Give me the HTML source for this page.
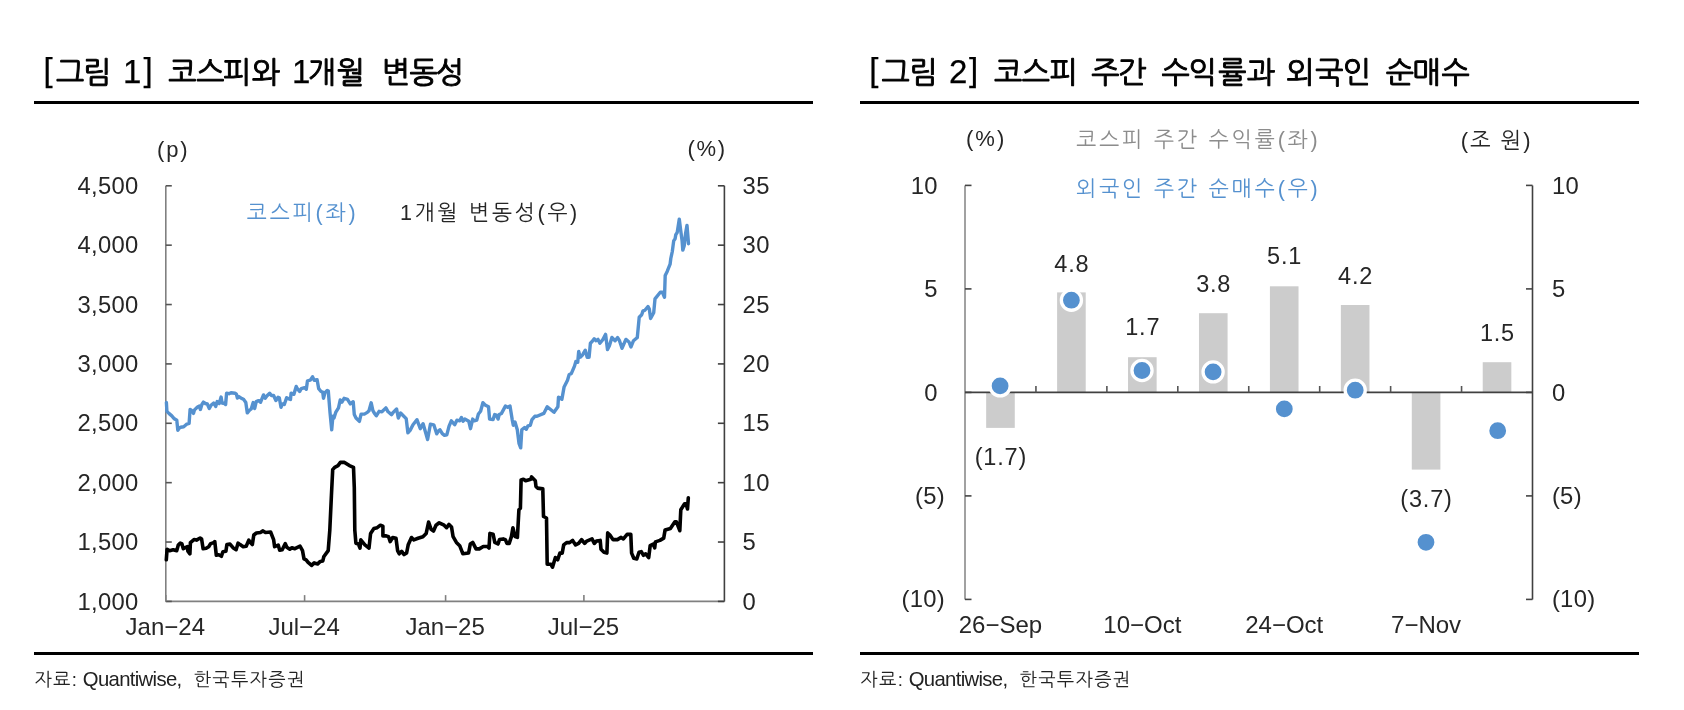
<!DOCTYPE html><html><head><meta charset="utf-8"><style>html,body{margin:0;padding:0;background:#fff;width:1684px;height:710px;overflow:hidden}svg{display:block;will-change:transform}</style></head><body><svg width="1684" height="710" viewBox="0 0 1684 710">
<rect width="100%" height="100%" fill="#fff"/>
<rect x="34" y="101" width="779" height="3" fill="#000"/>
<rect x="34" y="652" width="779" height="3" fill="#000"/>
<rect x="860" y="101" width="779" height="3" fill="#000"/>
<rect x="860" y="652" width="779" height="3" fill="#000"/>
<text text-anchor="middle" font-family="'Liberation Sans','NanumGothic',sans-serif" font-size="30" font-weight="400" fill="#000" stroke="#000" stroke-width="0.95" xml:space="preserve"><tspan x="48.0" y="81.0" font-size="33" stroke-width="0.25">[</tspan><tspan x="70.1" y="83">그</tspan><tspan x="97.4" y="83">림</tspan><tspan x="118.8" y="83"> </tspan><tspan x="132.2" y="83.0" font-size="33" stroke-width="0.25">1</tspan><tspan x="148.2" y="81.0" font-size="33" stroke-width="0.25">]</tspan><tspan x="160.3" y="83"> </tspan><tspan x="182.3" y="83">코</tspan><tspan x="210.3" y="83">스</tspan><tspan x="237.0" y="83">피</tspan><tspan x="265.9" y="83">와</tspan><tspan x="288.5" y="83"> </tspan><tspan x="301.2" y="83.0" font-size="33" stroke-width="0.25">1</tspan><tspan x="322.0" y="83">개</tspan><tspan x="350.6" y="83">월</tspan><tspan x="373.4" y="83"> </tspan><tspan x="396.1" y="83">변</tspan><tspan x="423.5" y="83">동</tspan><tspan x="449.8" y="83">성</tspan></text>
<text text-anchor="middle" font-family="'Liberation Sans','NanumGothic',sans-serif" font-size="30" font-weight="400" fill="#000" stroke="#000" stroke-width="0.95" xml:space="preserve"><tspan x="873.8" y="81.0" font-size="33" stroke-width="0.25">[</tspan><tspan x="895.5" y="83">그</tspan><tspan x="923.5" y="83">림</tspan><tspan x="942.4" y="83"> </tspan><tspan x="958.3" y="83.0" font-size="33" stroke-width="0.25">2</tspan><tspan x="973.7" y="81.0" font-size="33" stroke-width="0.25">]</tspan><tspan x="985.8" y="83"> </tspan><tspan x="1008.2" y="83">코</tspan><tspan x="1035.8" y="83">스</tspan><tspan x="1063.5" y="83">피</tspan><tspan x="1083.7" y="83"> </tspan><tspan x="1105.3" y="83">주</tspan><tspan x="1132.4" y="83">간</tspan><tspan x="1153.5" y="83"> </tspan><tspan x="1175.5" y="83">수</tspan><tspan x="1202.5" y="83">익</tspan><tspan x="1232.3" y="83">률</tspan><tspan x="1260.9" y="83">과</tspan><tspan x="1281.3" y="83"> </tspan><tspan x="1300.4" y="83">외</tspan><tspan x="1329.3" y="83">국</tspan><tspan x="1356.8" y="83">인</tspan><tspan x="1377.8" y="83"> </tspan><tspan x="1399.8" y="83">순</tspan><tspan x="1426.8" y="83">매</tspan><tspan x="1455.7" y="83">수</tspan></text>
<text y="685.5" font-family="'Liberation Sans','NanumGothic',sans-serif" font-size="18.5" fill="#222"><tspan x="34.4" letter-spacing="1.3">자료: </tspan><tspan x="82.75" font-size="20.3" letter-spacing="-0.65">Quantiwise, </tspan><tspan x="193.65" letter-spacing="1.26">한국투자증권</tspan></text>
<text y="685.5" font-family="'Liberation Sans','NanumGothic',sans-serif" font-size="18.5" fill="#222"><tspan x="860.3" letter-spacing="1.3">자료: </tspan><tspan x="908.65" font-size="20.3" letter-spacing="-0.65">Quantiwise, </tspan><tspan x="1019.55" letter-spacing="1.26">한국투자증권</tspan></text>
<line x1="165.8" y1="185.8" x2="165.8" y2="601.4" stroke="#808080" stroke-width="1.6"/>
<line x1="724.4" y1="185.8" x2="724.4" y2="601.4" stroke="#404040" stroke-width="1.6"/>
<line x1="165.8" y1="601.4" x2="724.4" y2="601.4" stroke="#808080" stroke-width="1.6"/>
<line x1="165.8" y1="601.40" x2="171.8" y2="601.40" stroke="#555" stroke-width="1.6"/>
<text x="138.5" y="609.60" text-anchor="end" font-family="'Liberation Sans','NanumGothic',sans-serif" font-size="23.8" letter-spacing="0.3" fill="#262626">1,000</text>
<line x1="165.8" y1="542.03" x2="171.8" y2="542.03" stroke="#555" stroke-width="1.6"/>
<text x="138.5" y="550.23" text-anchor="end" font-family="'Liberation Sans','NanumGothic',sans-serif" font-size="23.8" letter-spacing="0.3" fill="#262626">1,500</text>
<line x1="165.8" y1="482.66" x2="171.8" y2="482.66" stroke="#555" stroke-width="1.6"/>
<text x="138.5" y="490.86" text-anchor="end" font-family="'Liberation Sans','NanumGothic',sans-serif" font-size="23.8" letter-spacing="0.3" fill="#262626">2,000</text>
<line x1="165.8" y1="423.29" x2="171.8" y2="423.29" stroke="#555" stroke-width="1.6"/>
<text x="138.5" y="431.49" text-anchor="end" font-family="'Liberation Sans','NanumGothic',sans-serif" font-size="23.8" letter-spacing="0.3" fill="#262626">2,500</text>
<line x1="165.8" y1="363.91" x2="171.8" y2="363.91" stroke="#555" stroke-width="1.6"/>
<text x="138.5" y="372.11" text-anchor="end" font-family="'Liberation Sans','NanumGothic',sans-serif" font-size="23.8" letter-spacing="0.3" fill="#262626">3,000</text>
<line x1="165.8" y1="304.54" x2="171.8" y2="304.54" stroke="#555" stroke-width="1.6"/>
<text x="138.5" y="312.74" text-anchor="end" font-family="'Liberation Sans','NanumGothic',sans-serif" font-size="23.8" letter-spacing="0.3" fill="#262626">3,500</text>
<line x1="165.8" y1="245.17" x2="171.8" y2="245.17" stroke="#555" stroke-width="1.6"/>
<text x="138.5" y="253.37" text-anchor="end" font-family="'Liberation Sans','NanumGothic',sans-serif" font-size="23.8" letter-spacing="0.3" fill="#262626">4,000</text>
<line x1="165.8" y1="185.80" x2="171.8" y2="185.80" stroke="#555" stroke-width="1.6"/>
<text x="138.5" y="194.00" text-anchor="end" font-family="'Liberation Sans','NanumGothic',sans-serif" font-size="23.8" letter-spacing="0.3" fill="#262626">4,500</text>
<line x1="717.9" y1="601.40" x2="724.4" y2="601.40" stroke="#404040" stroke-width="1.6"/>
<text x="742.6" y="609.60" font-family="'Liberation Sans','NanumGothic',sans-serif" font-size="23.8" letter-spacing="0.3" fill="#262626">0</text>
<line x1="717.9" y1="542.03" x2="724.4" y2="542.03" stroke="#404040" stroke-width="1.6"/>
<text x="742.6" y="550.23" font-family="'Liberation Sans','NanumGothic',sans-serif" font-size="23.8" letter-spacing="0.3" fill="#262626">5</text>
<line x1="717.9" y1="482.66" x2="724.4" y2="482.66" stroke="#404040" stroke-width="1.6"/>
<text x="742.6" y="490.86" font-family="'Liberation Sans','NanumGothic',sans-serif" font-size="23.8" letter-spacing="0.3" fill="#262626">10</text>
<line x1="717.9" y1="423.29" x2="724.4" y2="423.29" stroke="#404040" stroke-width="1.6"/>
<text x="742.6" y="431.49" font-family="'Liberation Sans','NanumGothic',sans-serif" font-size="23.8" letter-spacing="0.3" fill="#262626">15</text>
<line x1="717.9" y1="363.91" x2="724.4" y2="363.91" stroke="#404040" stroke-width="1.6"/>
<text x="742.6" y="372.11" font-family="'Liberation Sans','NanumGothic',sans-serif" font-size="23.8" letter-spacing="0.3" fill="#262626">20</text>
<line x1="717.9" y1="304.54" x2="724.4" y2="304.54" stroke="#404040" stroke-width="1.6"/>
<text x="742.6" y="312.74" font-family="'Liberation Sans','NanumGothic',sans-serif" font-size="23.8" letter-spacing="0.3" fill="#262626">25</text>
<line x1="717.9" y1="245.17" x2="724.4" y2="245.17" stroke="#404040" stroke-width="1.6"/>
<text x="742.6" y="253.37" font-family="'Liberation Sans','NanumGothic',sans-serif" font-size="23.8" letter-spacing="0.3" fill="#262626">30</text>
<line x1="717.9" y1="185.80" x2="724.4" y2="185.80" stroke="#404040" stroke-width="1.6"/>
<text x="742.6" y="194.00" font-family="'Liberation Sans','NanumGothic',sans-serif" font-size="23.8" letter-spacing="0.3" fill="#262626">35</text>
<line x1="165.8" y1="601.4" x2="165.8" y2="595.1" stroke="#808080" stroke-width="1.6"/>
<text x="165.3" y="635.3" text-anchor="middle" font-family="'Liberation Sans','NanumGothic',sans-serif" font-size="24" fill="#262626">Jan−24</text>
<line x1="304.6" y1="601.4" x2="304.6" y2="595.1" stroke="#808080" stroke-width="1.6"/>
<text x="304.1" y="635.3" text-anchor="middle" font-family="'Liberation Sans','NanumGothic',sans-serif" font-size="24" fill="#262626">Jul−24</text>
<line x1="445.6" y1="601.4" x2="445.6" y2="595.1" stroke="#808080" stroke-width="1.6"/>
<text x="445.1" y="635.3" text-anchor="middle" font-family="'Liberation Sans','NanumGothic',sans-serif" font-size="24" fill="#262626">Jan−25</text>
<line x1="583.9" y1="601.4" x2="583.9" y2="595.1" stroke="#808080" stroke-width="1.6"/>
<text x="583.4" y="635.3" text-anchor="middle" font-family="'Liberation Sans','NanumGothic',sans-serif" font-size="24" fill="#262626">Jul−25</text>
<text x="157.0" y="156.95" font-family="'Liberation Sans','NanumGothic',sans-serif" font-size="22" letter-spacing="1.9" fill="#262626">(p)</text>
<text x="687.45" y="156.25" font-family="'Liberation Sans','NanumGothic',sans-serif" font-size="22" letter-spacing="1.75" fill="#262626">(%)</text>
<text x="246.6" y="219.9" font-family="'Liberation Sans','NanumGothic',sans-serif" font-size="21.5" letter-spacing="2.76" fill="#5591cf">코스피(좌)</text>
<text x="399.9" y="219.9" font-family="'Liberation Sans','NanumGothic',sans-serif" font-size="21.5" letter-spacing="2.645" fill="#262626">1개월 변동성(우)</text>
<line x1="965.0" y1="185.4" x2="965.0" y2="599.4" stroke="#8a8a8a" stroke-width="1.6"/>
<line x1="1532.5" y1="185.4" x2="1532.5" y2="599.4" stroke="#404040" stroke-width="1.6"/>
<line x1="965.0" y1="185.40" x2="971.5" y2="185.40" stroke="#444" stroke-width="1.6"/>
<line x1="1526.0" y1="185.40" x2="1532.5" y2="185.40" stroke="#444" stroke-width="1.6"/>
<text x="937.8" y="193.60" text-anchor="end" font-family="'Liberation Sans','NanumGothic',sans-serif" font-size="23.8" letter-spacing="0.3" fill="#262626">10</text>
<text x="1551.9" y="193.60" font-family="'Liberation Sans','NanumGothic',sans-serif" font-size="23.8" letter-spacing="0.3" fill="#262626">10</text>
<line x1="965.0" y1="288.90" x2="971.5" y2="288.90" stroke="#444" stroke-width="1.6"/>
<line x1="1526.0" y1="288.90" x2="1532.5" y2="288.90" stroke="#444" stroke-width="1.6"/>
<text x="937.8" y="297.10" text-anchor="end" font-family="'Liberation Sans','NanumGothic',sans-serif" font-size="23.8" letter-spacing="0.3" fill="#262626">5</text>
<text x="1551.9" y="297.10" font-family="'Liberation Sans','NanumGothic',sans-serif" font-size="23.8" letter-spacing="0.3" fill="#262626">5</text>
<line x1="965.0" y1="392.40" x2="971.5" y2="392.40" stroke="#444" stroke-width="1.6"/>
<line x1="1526.0" y1="392.40" x2="1532.5" y2="392.40" stroke="#444" stroke-width="1.6"/>
<text x="937.8" y="400.60" text-anchor="end" font-family="'Liberation Sans','NanumGothic',sans-serif" font-size="23.8" letter-spacing="0.3" fill="#262626">0</text>
<text x="1551.9" y="400.60" font-family="'Liberation Sans','NanumGothic',sans-serif" font-size="23.8" letter-spacing="0.3" fill="#262626">0</text>
<line x1="965.0" y1="495.90" x2="971.5" y2="495.90" stroke="#444" stroke-width="1.6"/>
<line x1="1526.0" y1="495.90" x2="1532.5" y2="495.90" stroke="#444" stroke-width="1.6"/>
<text x="945.0999999999999" y="503.50" text-anchor="end" font-family="'Liberation Sans','NanumGothic',sans-serif" font-size="23.8" letter-spacing="0.3" fill="#262626">(5)</text>
<text x="1551.9" y="503.50" font-family="'Liberation Sans','NanumGothic',sans-serif" font-size="23.8" letter-spacing="0.3" fill="#262626">(5)</text>
<line x1="965.0" y1="599.40" x2="971.5" y2="599.40" stroke="#444" stroke-width="1.6"/>
<line x1="1526.0" y1="599.40" x2="1532.5" y2="599.40" stroke="#444" stroke-width="1.6"/>
<text x="945.0999999999999" y="607.00" text-anchor="end" font-family="'Liberation Sans','NanumGothic',sans-serif" font-size="23.8" letter-spacing="0.3" fill="#262626">(10)</text>
<text x="1551.9" y="607.00" font-family="'Liberation Sans','NanumGothic',sans-serif" font-size="23.8" letter-spacing="0.3" fill="#262626">(10)</text>
<rect x="986.17" y="392.40" width="28.6" height="35.50" fill="#cccccc"/>
<rect x="1057.11" y="292.40" width="28.6" height="100.00" fill="#cccccc"/>
<rect x="1128.04" y="357.21" width="28.6" height="35.19" fill="#cccccc"/>
<rect x="1198.98" y="313.20" width="28.6" height="79.20" fill="#cccccc"/>
<rect x="1269.92" y="286.30" width="28.6" height="106.10" fill="#cccccc"/>
<rect x="1340.86" y="305.00" width="28.6" height="87.40" fill="#cccccc"/>
<rect x="1411.79" y="392.40" width="28.6" height="77.20" fill="#cccccc"/>
<rect x="1482.73" y="362.20" width="28.6" height="30.20" fill="#cccccc"/>
<line x1="965.0" y1="392.40" x2="1532.5" y2="392.40" stroke="#404040" stroke-width="1.6"/>
<line x1="1035.94" y1="392.40" x2="1035.94" y2="386.00" stroke="#555" stroke-width="1.6"/>
<line x1="1106.88" y1="392.40" x2="1106.88" y2="386.00" stroke="#555" stroke-width="1.6"/>
<line x1="1177.81" y1="392.40" x2="1177.81" y2="386.00" stroke="#555" stroke-width="1.6"/>
<line x1="1248.75" y1="392.40" x2="1248.75" y2="386.00" stroke="#555" stroke-width="1.6"/>
<line x1="1319.69" y1="392.40" x2="1319.69" y2="386.00" stroke="#555" stroke-width="1.6"/>
<line x1="1390.62" y1="392.40" x2="1390.62" y2="386.00" stroke="#555" stroke-width="1.6"/>
<line x1="1461.56" y1="392.40" x2="1461.56" y2="386.00" stroke="#555" stroke-width="1.6"/>
<text x="1000.87" y="464.80" text-anchor="middle" font-family="'Liberation Sans','NanumGothic',sans-serif" font-size="23.5" letter-spacing="0.8" fill="#262626">(1.7)</text>
<text x="1071.81" y="271.90" text-anchor="middle" font-family="'Liberation Sans','NanumGothic',sans-serif" font-size="23.5" letter-spacing="0.8" fill="#262626">4.8</text>
<text x="1142.74" y="334.60" text-anchor="middle" font-family="'Liberation Sans','NanumGothic',sans-serif" font-size="23.5" letter-spacing="0.8" fill="#262626">1.7</text>
<text x="1213.68" y="291.60" text-anchor="middle" font-family="'Liberation Sans','NanumGothic',sans-serif" font-size="23.5" letter-spacing="0.8" fill="#262626">3.8</text>
<text x="1284.62" y="263.80" text-anchor="middle" font-family="'Liberation Sans','NanumGothic',sans-serif" font-size="23.5" letter-spacing="0.8" fill="#262626">5.1</text>
<text x="1355.56" y="283.50" text-anchor="middle" font-family="'Liberation Sans','NanumGothic',sans-serif" font-size="23.5" letter-spacing="0.8" fill="#262626">4.2</text>
<text x="1426.49" y="507.40" text-anchor="middle" font-family="'Liberation Sans','NanumGothic',sans-serif" font-size="23.5" letter-spacing="0.8" fill="#262626">(3.7)</text>
<text x="1497.43" y="340.70" text-anchor="middle" font-family="'Liberation Sans','NanumGothic',sans-serif" font-size="23.5" letter-spacing="0.8" fill="#262626">1.5</text>
<circle cx="1000.1" cy="385.9" r="10.05" fill="#5591cf" stroke="#fff" stroke-width="3.3"/>
<circle cx="1071.4" cy="300.2" r="10.05" fill="#5591cf" stroke="#fff" stroke-width="3.3"/>
<circle cx="1142.0" cy="370.5" r="10.05" fill="#5591cf" stroke="#fff" stroke-width="3.3"/>
<circle cx="1213.1" cy="371.9" r="10.05" fill="#5591cf" stroke="#fff" stroke-width="3.3"/>
<circle cx="1284.3" cy="408.9" r="10.05" fill="#5591cf" stroke="#fff" stroke-width="3.3"/>
<circle cx="1355.2" cy="390.2" r="10.05" fill="#5591cf" stroke="#fff" stroke-width="3.3"/>
<circle cx="1426.0" cy="542.3" r="10.05" fill="#5591cf" stroke="#fff" stroke-width="3.3"/>
<circle cx="1497.7" cy="430.7" r="10.05" fill="#5591cf" stroke="#fff" stroke-width="3.3"/>
<text x="1000.47" y="633.1" text-anchor="middle" font-family="'Liberation Sans','NanumGothic',sans-serif" font-size="24" fill="#262626">26−Sep</text>
<text x="1142.34" y="633.1" text-anchor="middle" font-family="'Liberation Sans','NanumGothic',sans-serif" font-size="24" fill="#262626">10−Oct</text>
<text x="1284.22" y="633.1" text-anchor="middle" font-family="'Liberation Sans','NanumGothic',sans-serif" font-size="24" fill="#262626">24−Oct</text>
<text x="1426.09" y="633.1" text-anchor="middle" font-family="'Liberation Sans','NanumGothic',sans-serif" font-size="24" fill="#262626">7−Nov</text>
<text x="965.95" y="145.85" font-family="'Liberation Sans','NanumGothic',sans-serif" font-size="22" letter-spacing="2.05" fill="#262626">(%)</text>
<text x="1460.65" y="147.8" font-family="'Liberation Sans','NanumGothic',sans-serif" font-size="22" letter-spacing="1.925" fill="#262626">(조 원)</text>
<text x="1076.0" y="147.2" font-family="'Liberation Sans','NanumGothic',sans-serif" font-size="21.5" letter-spacing="2.8" fill="#8c8c8c">코스피 주간 수익률(좌)</text>
<text x="1076.0" y="195.6" font-family="'Liberation Sans','NanumGothic',sans-serif" font-size="21.5" letter-spacing="2.8" fill="#5591cf">외국인 주간 순매수(우)</text>
<polyline points="166.3,559.8 167.1,549.2 169.6,550.7 173.2,549.7 176.7,550.7 178.3,545.1 180.3,543.1 181.8,543.6 183.3,548.7 185.4,547.7 187.4,546.7 187.9,551.2 189.9,553.8 190.4,542.6 194,539.6 196.5,540.1 200.1,538 201.6,539 203.1,548.7 206.2,548.2 208.7,546.7 210.7,543.6 213.8,542.6 214.8,541.6 216.3,555.3 218.8,554.8 221.4,556.3 222.9,551.7 225.9,551.2 226.9,544.6 230,544.1 233,547.7 236.1,549.7 238.1,543.1 240.1,544.6 243.2,546.7 246.2,546.2 248.8,540.1 250.3,542.6 252.3,544.6 253.8,535 256.4,533 260.4,532.5 263,530.9 265.5,532.5 270.6,532 273.6,539.6 274.6,546.7 278.2,545.1 279.7,550.2 282.2,549.7 285.3,543.6 286.8,547.2 289.8,549.2 291.9,547.7 294.9,548.7 300,546.2 302.5,550.7 304,558.8 306.1,559.8 308.1,562.4 311.6,565.4 314.2,562.9 317.7,563.9 320.3,561.4 322.8,560.9 323.8,556.8 324.1,556.3 328.2,550.6 329.8,530.1 331.4,495.8 332.7,469.7 334.7,467.3 338,465.6 340.4,462.4 344.5,462.4 349.4,465.6 353.5,467.3 354.3,487.7 354.8,530.1 355.9,543.2 358.4,544 360,548.1 360.8,539.9 364.9,544.8 369,548.1 370.6,533.4 373.9,528.5 377.2,527.7 380.4,525.2 382.9,526.1 382.9,535.9 386.2,535.9 388.6,536.7 390.2,541.6 392.7,537.5 396,538.3 397.6,550.6 399.2,553.8 401.7,551.4 404.1,554.6 406.6,553 408.2,544.8 411.5,537.5 413.9,539.9 418,538.3 422.9,536.7 426.2,533.4 428.6,522 431.1,529.3 433.5,531 436,525.2 439.2,522.8 444.1,525.2 446.6,527.7 449,524.4 451.5,526.9 453.1,536.7 456.4,542.4 459.7,545.7 462.9,553.8 468.6,553 470.3,544 472.7,542.4 476,548.9 479.3,548.9 483.3,546.5 487.4,546.5 489,548.1 489.9,533.4 493.1,534.2 494.8,542.4 498,544 499.5,539.6 503.2,538.9 505.4,539.6 506.9,543.4 509.2,543.4 511.4,536.6 512.9,527.7 515.1,536.6 517.4,537.4 518.9,509.8 520.4,508.3 521.1,479.9 523.4,479.2 525.6,480.7 530.8,479.2 531.6,476.9 535.3,480.7 536,486.6 537.5,488.1 542.8,488.9 543.5,516.5 546.5,518 547.2,564.3 551,564.3 552.5,567.2 555.4,557.5 557.7,559.8 559.9,553.1 562.2,553.1 563.7,544.9 566.6,542.6 569.6,542.6 572.6,540.4 575.6,544.9 578.6,543.4 581.6,539.6 584.6,543.4 586.8,541.1 592,538.9 594.3,543.4 596.5,541.1 600.2,540.4 601,549.3 604,552.3 606.9,553.1 607.7,532.9 609.9,535.1 612.9,539.6 617.4,539.6 621.1,537.4 623.4,538.9 627.1,534.4 630.8,534.4 631.6,553.1 633.8,558.3 636.8,559 639,552.3 641.3,551.6 643.5,555.3 645.7,553.8 648.7,557.5 650.2,545.6 653.2,544.1 654.7,547.8 655.4,541.9 659.9,540.4 663.7,538.1 665.1,529.9 670.4,528.4 674.9,521.7 676.3,521.7 679.8,530.7 680.8,509.8 684.6,503.8 686,503.8 687.5,509 688.3,497.8" fill="none" stroke="#000" stroke-width="3.6" stroke-linejoin="round" stroke-linecap="round"/>
<polyline points="166.4,402.5 166.9,411.4 168.9,413.4 171.8,415.9 174.3,418.8 176.8,420.3 177.8,430.2 179.2,428.2 180.7,427.2 183.7,426.7 186.6,424.2 189.1,423.3 190.1,409.4 191.6,410.4 193.5,413.4 194.5,409.9 197.5,407.0 199.4,406 200.4,409.4 201.9,404.5 203.4,402.1 205.4,403.5 207.3,404 209.3,408.5 211.3,405 213.7,403 215.7,406.5 217.2,401.6 219.2,403.5 221.1,397.1 222.1,403 224.6,403.5 225.6,404.5 226.6,393.2 229,393.7 231,392.7 235,393.2 236.4,394.2 237.4,398.1 238.9,396.6 241.9,398.6 243.8,399.6 245.8,402.5 247.3,412.9 249.3,410.4 251.2,409 253.2,402.5 254.7,408.5 256.2,401.6 258.6,400.6 259.5,401.1 260.6,402.2 263.5,394.9 265.2,398.3 266.8,396 269.7,393.2 271.4,395.5 273.6,395.5 275.9,400.5 278.1,397.2 279.3,397.7 281,407.3 282.6,403.9 284.3,404.5 286.6,397.7 288.8,398.8 290.5,399.4 291.1,393.2 293.9,394.3 296.2,386.4 297.3,388.7 299.6,391.5 301.3,388.7 304.6,387.6 306.3,389.3 307.5,380.8 310.3,380.2 312.5,376.8 314.2,380.2 317.1,379.7 318.7,388.7 321,391.5 322.7,392.1 323.5,398.3 325,392.6 327.2,390.4 328.3,391 330,412.4 331.7,429.9 332.9,416.3 334,418 335.7,412.4 338.5,407.9 340.2,400 341.9,402.2 344.1,398.3 347.5,399.4 350.3,403.9 353.2,401.7 354.3,414.6 356,418 359.4,421.4 361.1,414.1 364.4,414.1 367.3,412.4 369,410.7 371.2,402.8 372.9,410.7 374.6,413.5 376.3,415.8 379.1,411.3 381.9,411.8 385.9,407.9 388.1,411.8 391.5,414.6 393.2,412.4 396.6,409 398.3,418 400.6,413 402.8,415.2 406.2,418.6 407.9,432.7 410.1,430.4 413,424.8 416.9,419.7 420.3,428.7 423.1,423.7 427.6,439.5 430.4,424.2 433.8,424.8 436.7,433.8 438.9,430.4 440,429.8 442.3,433.7 444.5,435.4 446.8,434.9 449,426.4 451.3,420.8 454.7,424.7 456.9,420.2 459.7,420.8 461.4,417.4 463.1,421.3 464.8,419.1 468.8,421.3 470.5,428.7 472.7,419.1 474.4,420.8 476.7,420.2 478.4,414 480.6,411.2 482.9,402.7 485.1,405 488.5,406.7 489.6,419.1 493,419.6 494.7,414.6 496.4,415.1 498.1,419.1 499.2,414.6 501.5,413.4 505.4,406.1 507.7,407.2 510,406.1 512.2,419.6 513.3,425.3 515,421.9 517.3,429.8 519,443.3 520.7,447.8 521.8,429.8 524.6,427.5 526.3,429.2 528,425.8 530.3,425.3 532,419.6 534.8,416.3 537,416.3 543.8,413.4 547.2,406.7 550.6,409.5 554,412.3 557.9,406.7 558.5,397.1 561.9,399.3 564.1,386.9 567.5,380.2 569.2,374.5 571.3,373.7 574.5,366.1 575.8,361.6 577.7,362.3 578.7,351.5 580.2,357.2 582.7,354.7 585.3,350.2 587.2,357.2 589.1,357.2 590.4,343.2 592.3,341.3 594.2,338.8 596.1,340.7 598,339.4 599.9,343.2 603,339.4 605.6,334.4 607.5,349.6 609.4,345.8 611.9,337.5 615.1,340.7 617.6,337.5 619.5,340.7 622,348.3 625.9,339.4 629,342 630.9,347 633.5,340.7 637.3,337.5 639.2,317.3 641.7,314.7 643,310.9 644.9,310.3 648,306.5 649.3,309 650.6,318.5 653.7,312.8 655,298.9 660.3,292.3 662.4,292.3 664.5,297.3 665.2,275.4 667.3,271.2 670.1,264.2 670.8,258.5 672.3,251.5 673.7,240.9 675.1,238.8 675.8,234.6 677.2,232.5 679.3,219.1 680.7,230.4 682.1,240.9 682.8,250.1 684.2,245.8 685.6,233.2 687,225.4 688.5,243.7" fill="none" stroke="#5591cf" stroke-width="3.4" stroke-linejoin="round" stroke-linecap="round"/>
</svg></body></html>
